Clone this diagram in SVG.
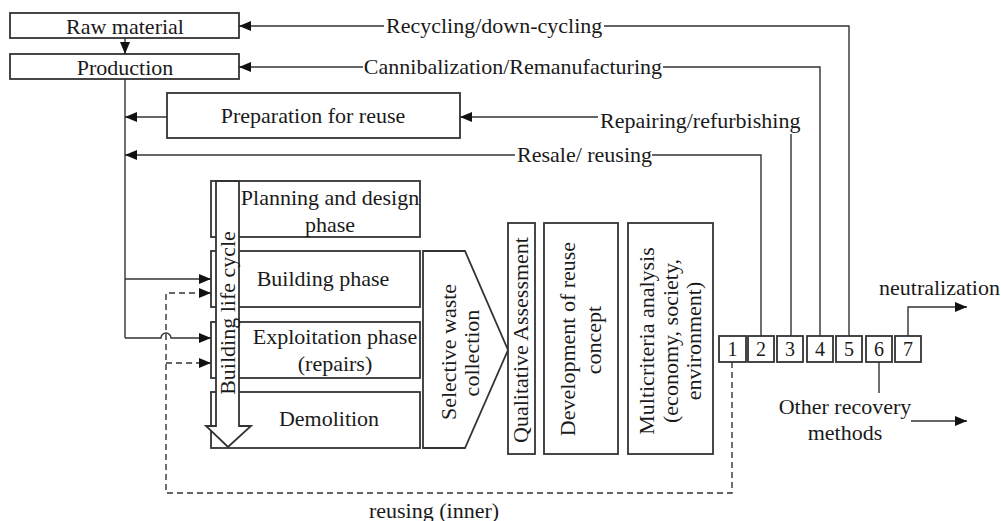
<svg xmlns="http://www.w3.org/2000/svg" width="1001" height="521" viewBox="0 0 1001 521" font-family="'Liberation Serif', 'DejaVu Serif', 'Times New Roman', serif">
<style>
text{font-family:'Liberation Serif','DejaVu Serif','Times New Roman',serif;font-size:22px;fill:#1a1a1a}
.c{text-anchor:middle}
.box{fill:#fff;stroke:#333;stroke-width:1.8}
.ln{fill:none;stroke:#333;stroke-width:1.4}
.ds{fill:none;stroke:#333;stroke-width:1.4;stroke-dasharray:6 4}
.num{font-size:20px;text-anchor:middle}
</style>
<defs>
<marker id="ah" markerUnits="userSpaceOnUse" markerWidth="13" markerHeight="11" refX="12" refY="5" orient="auto">
<path d="M0,0 L12,5 L0,10 z" fill="#111"/>
</marker>
</defs>
<rect width="1001" height="521" fill="#fff"/>

<g id="raw-material"><rect class="box" x="10" y="13" width="229" height="25"/><text class="c" x="125" y="34">Raw material</text></g>
<g id="production"><rect class="box" x="10" y="54" width="229" height="25"/><text class="c" x="125" y="75">Production</text></g>
<g id="preparation"><rect class="box" x="167" y="93" width="293" height="45"/><text class="c" x="313" y="123">Preparation for reuse</text></g>

<g id="planning"><rect class="box" x="211" y="181" width="209" height="56"/><text class="c" x="330" y="205">Planning and design</text><text class="c" x="330" y="232">phase</text></g>
<g id="building"><rect class="box" x="211" y="251" width="209" height="56"/><text class="c" x="323" y="286">Building phase</text></g>
<g id="exploitation"><rect class="box" x="211" y="322" width="209" height="56"/><text class="c" x="335" y="344">Exploitation phase</text><text class="c" x="335" y="371">(repairs)</text></g>
<g id="demolition"><rect class="box" x="211" y="392" width="209" height="56"/><text class="c" x="329" y="426">Demolition</text></g>
<g id="life-cycle"><polygon class="box" points="216,181 239,181 239,426 251,426 228,447 206,426 216,426"/><text class="c" transform="translate(235,313) rotate(-90)">Building life cycle</text></g>

<g id="selective"><polygon class="box" points="423,251 465,251 508,350 465,448 423,448"/><text class="c" transform="translate(456,352) rotate(-90)">Selective waste</text><text class="c" transform="translate(479,353) rotate(-90)">collection</text></g>
<g id="qualitative"><rect class="box" x="508" y="223" width="27" height="231"/><text class="c" transform="translate(528,340) rotate(-90)">Qualitative Assessment</text></g>
<g id="development"><rect class="box" x="544" y="223" width="74" height="231"/><text class="c" transform="translate(575,339) rotate(-90)">Development of reuse</text><text class="c" transform="translate(601,340) rotate(-90)">concept</text></g>
<g id="multicriteria"><rect class="box" x="628" y="223" width="85" height="231"/><text class="c" transform="translate(654,341) rotate(-90)">Multicriteria analysis</text><text class="c" transform="translate(678,341) rotate(-90)">(economy, society,</text><text class="c" transform="translate(701,341) rotate(-90)">environment)</text></g>

<g id="n1"><rect class="box" x="719" y="336" width="27" height="26"/><text class="num" x="732.5" y="356">1</text></g>
<g id="n2"><rect class="box" x="748" y="336" width="26" height="26"/><text class="num" x="761" y="356">2</text></g>
<g id="n3"><rect class="box" x="777" y="336" width="26" height="26"/><text class="num" x="790" y="356">3</text></g>
<g id="n4"><rect class="box" x="807" y="336" width="26" height="26"/><text class="num" x="820" y="356">4</text></g>
<g id="n5"><rect class="box" x="836" y="336" width="26" height="26"/><text class="num" x="849" y="356">5</text></g>
<g id="n6"><rect class="box" x="866" y="336" width="26" height="26"/><text class="num" x="879" y="356">6</text></g>
<g id="n7"><rect class="box" x="895" y="336" width="26" height="26"/><text class="num" x="908" y="356">7</text></g>

<g id="connectors">
<line class="ln" x1="125" y1="38" x2="125" y2="54" marker-end="url(#ah)"/>
<polyline class="ln" points="849,336 849,26 604,26"/>
<text x="386" y="33">Recycling/down-cycling</text>
<line class="ln" x1="384" y1="26" x2="239" y2="26" marker-end="url(#ah)"/>
<polyline class="ln" points="820,336 820,67 663,67"/>
<text x="662" y="74" text-anchor="end">Cannibalization/Remanufacturing</text>
<line class="ln" x1="363" y1="67" x2="239" y2="67" marker-end="url(#ah)"/>
<line class="ln" x1="791" y1="336" x2="791" y2="134"/>
<text x="600" y="128">Repairing/refurbishing</text>
<line class="ln" x1="598" y1="117" x2="460" y2="117" marker-end="url(#ah)"/>
<line class="ln" x1="167" y1="117" x2="125" y2="117" marker-end="url(#ah)"/>
<polyline class="ln" points="761,336 761,155 652,155"/>
<text x="517" y="162">Resale/ reusing</text>
<line class="ln" x1="515" y1="155" x2="125" y2="155" marker-end="url(#ah)"/>
<polyline class="ln" points="125,79 125,338"/>
<line class="ln" x1="125" y1="279" x2="211" y2="279" marker-end="url(#ah)"/>
<path class="ln" d="M125,338 H161 A5,5 0 0 1 171,338 H211" marker-end="url(#ah)"/>
<polyline class="ds" points="732,362 732,493 166,493 166,293 211,293" marker-end="url(#ah)"/>
<line class="ds" x1="166" y1="363" x2="211" y2="363" marker-end="url(#ah)"/>
<text class="c" x="434" y="518">reusing (inner)</text>
<line class="ln" x1="879" y1="362" x2="879" y2="393"/>
<polyline class="ln" points="908,336 908,307 967,307" marker-end="url(#ah)"/>
<text x="879" y="295">neutralization</text>
<text class="c" x="845" y="414">Other recovery</text>
<text class="c" x="845" y="440">methods</text>
<line class="ln" x1="911" y1="421" x2="967" y2="421" marker-end="url(#ah)"/>
</g>
</svg>
